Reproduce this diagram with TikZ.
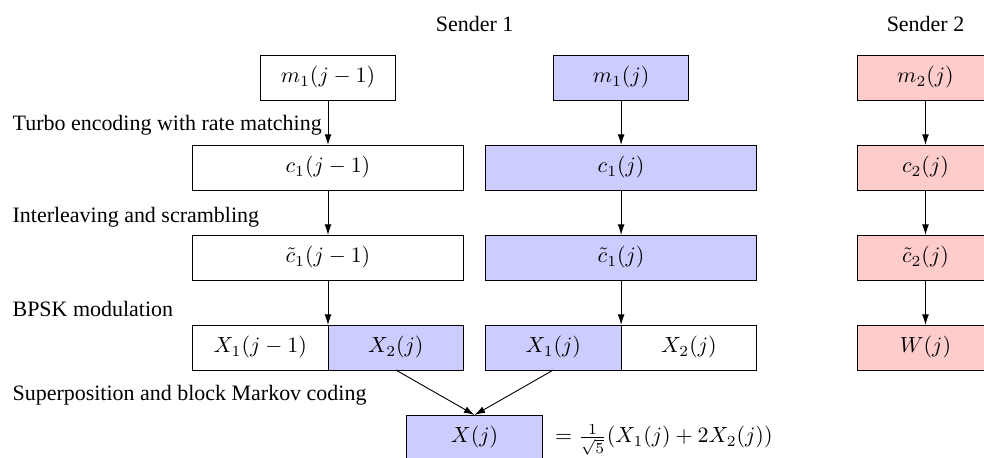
\documentclass[tikz,border=0pt]{standalone}
\usepackage[no-math]{fontspec}
\setmainfont{Liberation Serif}
\usepackage{amsmath}
\usepackage{xcolor}
\usetikzlibrary{arrows.meta, positioning, calc}
\definecolor{senderblue}{RGB}{204, 204, 255}
\definecolor{senderred}{RGB}{255, 204, 204}

\begin{document}
\begin{tikzpicture}[
			node distance=0.72cm,
			block/.style={rectangle, draw, outer sep=0pt, minimum height=0.72cm, align=center, font=\normalsize},
			halfblock/.style={block, minimum width=2.17cm},
			fullblock/.style={block, minimum width=4.34cm},
			stage/.style={anchor=west, font=\normalsize},
			flow/.style={-{Latex[length=1.7mm, width=1.1mm]}}
		]
		\useasboundingbox (-5.248,1.24) rectangle (10.496,-6.088);
		\clip (-5.248,1.24) rectangle (10.496,-6.088);
		% Sender 1, block j-1
		\node[halfblock] (m1a) at (0,0) {$m_1(j-1)$};
		\node[fullblock, below=of m1a] (c1a) {$c_1(j-1)$};
		\node[fullblock, below=of c1a] (tc1a) {$\tilde{c}_1(j-1)$};
		\node[halfblock, below right=0.72cm and 0cm of tc1a.south west, anchor=north west] (x1a) {$X_1(j-1)$};
		\node[halfblock, fill=senderblue, right=0cm of x1a] (x2a) {$X_2(j)$};
		
		% Sender 1, block j
		\node[fullblock, fill=senderblue, right=0.35cm of c1a] (c1b) {$c_1(j)$};
		\node[halfblock, fill=senderblue, above=of c1b] (m1b) {$m_1(j)$};
		\node[fullblock, fill=senderblue, below=of c1b] (tc1b) {$\tilde{c}_1(j)$};
		\node[halfblock, fill=senderblue, below right=0.72cm and 0cm of tc1b.south west, anchor=north west] (x1b) {$X_1(j)$};
		\node[halfblock, right=0cm of x1b] (x2b) {$X_2(j)$};
		
		% Sender 2
		\node[halfblock, fill=senderred, right=2.7cm of m1b] (m2) {$m_2(j)$};
		\node[halfblock, fill=senderred, below=of m2] (c2) {$c_2(j)$};
		\node[halfblock, fill=senderred, below=of c2] (tc2) {$\tilde{c}_2(j)$};
		\node[halfblock, fill=senderred, below=of tc2] (w2) {$W(j)$};
		
		% Superposition
		\node[halfblock, fill=senderblue, below=of $(x2a.south east)!0.5!(x1b.south west)$, anchor=north] (xj) {$X(j)$};
		\node[anchor=base west] (eq) at ([xshift=0.08cm]xj.base east) {$= \frac{1}{\sqrt{5}}(X_1(j)+2X_2(j))$};
		
		% Headers
		\node[above=0.25cm of $(m1a.north)!0.5!(m1b.north)$] (s1) {Sender 1};
		\node[above=0.25cm of m2] (s2) {Sender 2};
		
		% Stage labels
		\node[stage] (l1) at (-5.17,-0.76) {Turbo encoding with rate matching};
		\node[stage] (l2) at (-5.17,-2.23) {Interleaving and scrambling};
		\node[stage] (l3) at (-5.17,-3.70) {BPSK modulation};
		\node[stage] (l4) at (-5.17,-5.08) {Superposition and block Markov coding};
		
		% Arrows
		\draw[flow] (m1a) -- (c1a);
		\draw[flow] (c1a) -- (tc1a);
		\draw[flow] (tc1a) -- (tc1a |- x1a.north);
		\draw[flow] (m1b) -- (c1b);
		\draw[flow] (c1b) -- (tc1b);
		\draw[flow] (tc1b) -- (tc1b |- x1b.north);
		\draw[flow] (m2) -- (c2);
		\draw[flow] (c2) -- (tc2);
		\draw[flow] (tc2) -- (w2);
		\draw[flow] (x2a.south) -- (xj.north);
		\draw[flow] (x1b.south) -- (xj.north);
		\end{tikzpicture}
\end{document}
